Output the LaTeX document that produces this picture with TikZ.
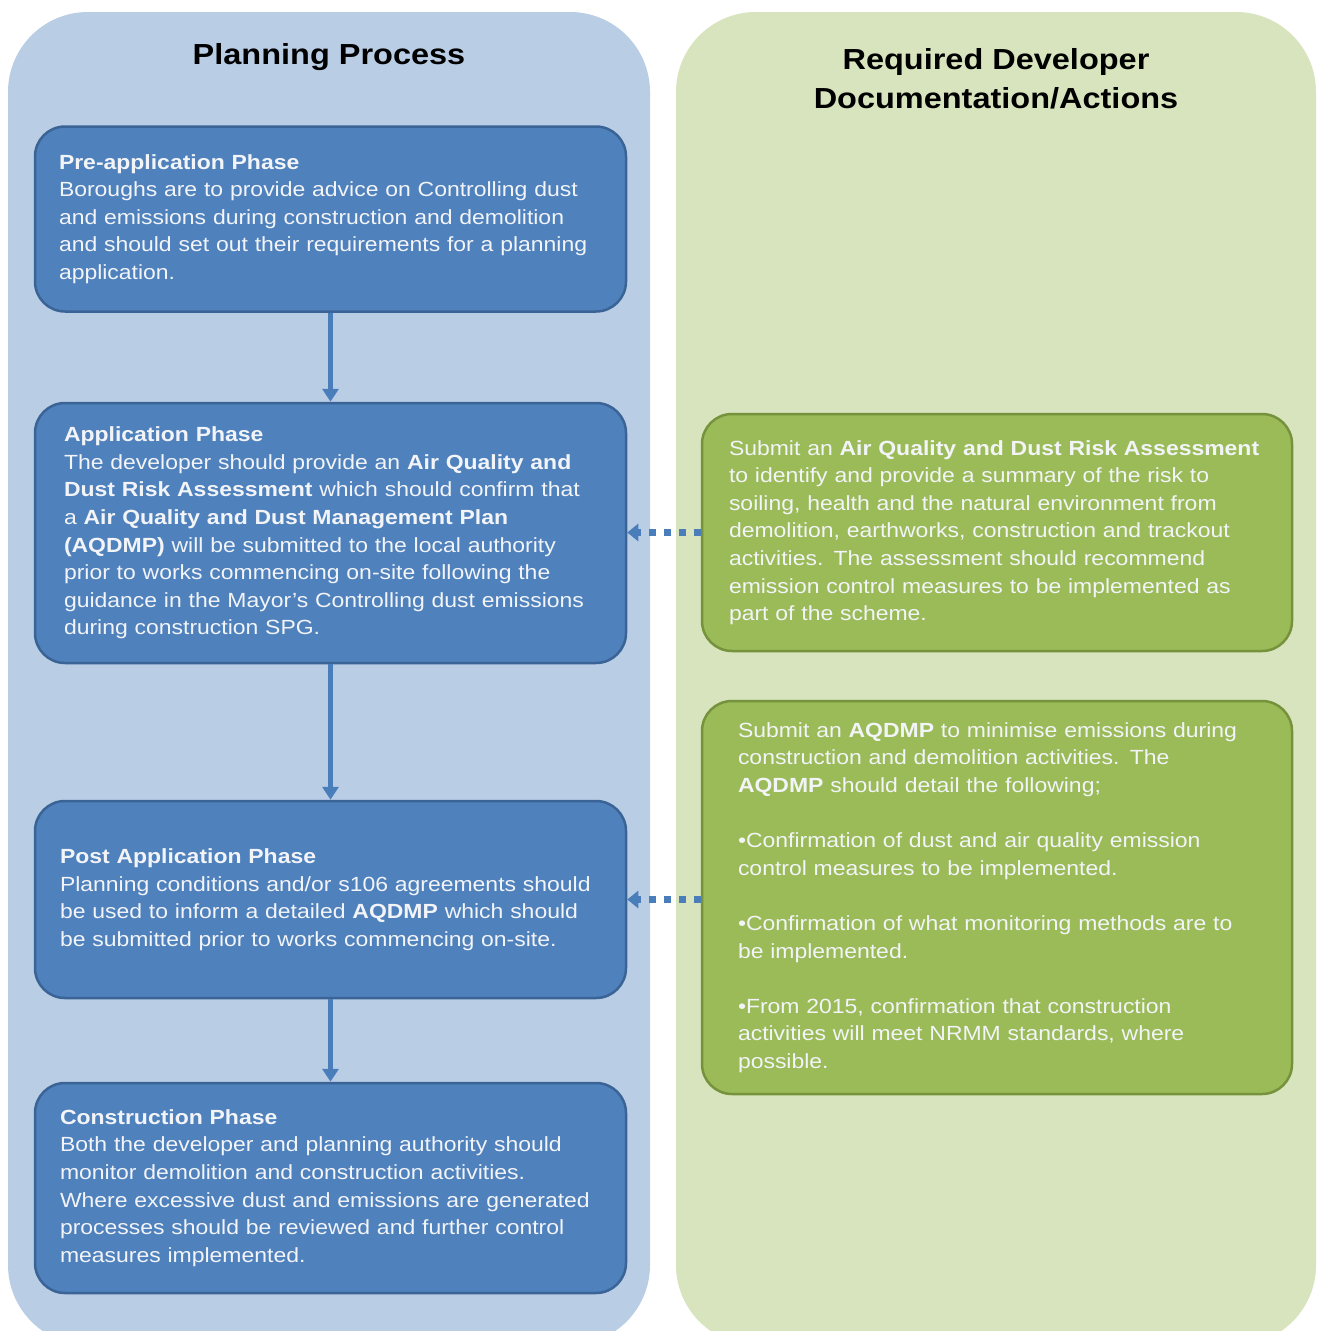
\documentclass[tikz,border=0pt]{standalone}
\usepackage{fontspec}
\setmainfont{Liberation Sans}[FakeStretch=1.12]
\usetikzlibrary{arrows.meta}
\definecolor{panelblue}{HTML}{B9CDE5}
\definecolor{panelgreen}{HTML}{D7E4BD}
\definecolor{boxblue}{HTML}{4F81BD}
\definecolor{boxblueline}{HTML}{3A6496}
\definecolor{boxgreen}{HTML}{9BBB59}
\definecolor{boxgreenline}{HTML}{76923C}
\definecolor{arrowblue}{HTML}{4A7EBB}
\definecolor{boxtext}{HTML}{F2F4F7}
\tikzset{
  panel/.style={rounded corners=80pt, draw=none},
  title/.style={font=\fontsize{29}{39.5}\selectfont\bfseries, text=black, align=center},
  phase/.style={rectangle, rounded corners=30pt, fill=boxblue, draw=boxblueline, line width=2.5pt,
    text=boxtext, font=\fontsize{20.5}{27.6}\selectfont, align=left, inner ysep=0pt},
  action/.style={rectangle, rounded corners=30pt, fill=boxgreen, draw=boxgreenline, line width=2.5pt,
    text=boxtext, font=\fontsize{20.5}{27.6}\selectfont, align=left, inner ysep=0pt},
  flowarrow/.style={draw=arrowblue, line width=5pt, -{Triangle[width=16pt,length=13pt]}},
  linkarrow/.style={draw=arrowblue, line width=7pt, dash pattern=on 7pt off 8pt,
    -{Triangle[width=17pt,length=11pt]}}
}
\begin{document}
\begin{tikzpicture}[x=1pt,y=-1pt]
\useasboundingbox (0,0) rectangle (1317,1331);
\fill[white] (0,0) rectangle (1317,1331);
% background panels
\fill[panelblue, panel] (8,12) rectangle (650,1345);
\fill[panelgreen, panel] (676,12) rectangle (1316,1345);
% titles
\node[title] (t1) at (329,57) {Planning Process};
\node[title] (t2) at (996,79) {Required Developer\\Documentation/Actions};
% phase boxes
\node[phase, inner xsep=24pt, text width=543pt, minimum height=185pt] (b1) at (330.5,219)
{\textbf{Pre-application Phase}\\
Boroughs are to provide advice on Controlling dust\\
and emissions during construction and demolition\\
and should set out their requirements for a planning\\
application.};
\node[phase, inner xsep=29pt, text width=533pt, minimum height=260pt] (b2) at (330.5,533)
{\textbf{Application Phase}\\
The developer should provide an \textbf{Air Quality and}\\
\textbf{Dust Risk Assessment} which should confirm that\\
a \textbf{Air Quality and Dust Management Plan}\\
\textbf{(AQDMP)} will be submitted to the local authority\\
prior to works commencing on-site following the\\
guidance in the Mayor’s Controlling dust emissions\\
during construction SPG.};
\node[phase, inner xsep=25pt, text width=541pt, minimum height=197pt] (b3) at (330.5,899.5)
{\textbf{Post Application Phase}\\
Planning conditions and/or s106 agreements should\\
be used to inform a detailed \textbf{AQDMP} which should\\
be submitted prior to works commencing on-site.};
\node[phase, inner xsep=25pt, text width=541pt, minimum height=210pt] (b4) at (330.5,1188)
{\textbf{Construction Phase}\\
Both the developer and planning authority should\\
monitor demolition and construction activities.\\
Where excessive dust and emissions are generated\\
processes should be reviewed and further control\\
measures implemented.};
% action boxes
\node[action, inner xsep=27pt, text width=536pt, minimum height=237pt] (g1) at (997,532.5)
{Submit an \textbf{Air Quality and Dust Risk Assessment}\\
to identify and provide a summary of the risk to\\
soiling, health and the natural environment from\\
demolition, earthworks, construction and trackout\\
activities. The assessment should recommend\\
emission control measures to be implemented as\\
part of the scheme.};
\node[action, inner xsep=36pt, text width=518pt, minimum height=393pt] (g2) at (997,897.5)
{Submit an \textbf{AQDMP} to minimise emissions during\\
construction and demolition activities. The\\
\textbf{AQDMP} should detail the following;\\[27.6pt]
•Confirmation of dust and air quality emission\\
control measures to be implemented.\\[27.6pt]
•Confirmation of what monitoring methods are to\\
be implemented.\\[27.6pt]
•From 2015, confirmation that construction\\
activities will meet NRMM standards, where\\
possible.};
% connectors
\draw[flowarrow] (b1.south) -- (b2.north);
\draw[flowarrow] (b2.south) -- (b3.north);
\draw[flowarrow] (b3.south) -- (b4.north);
\draw[linkarrow] (g1.west) -- (b2.east |- g1.west);
\draw[linkarrow] (g2.west |- b3.east) -- (b3.east);
\end{tikzpicture}
\end{document}
